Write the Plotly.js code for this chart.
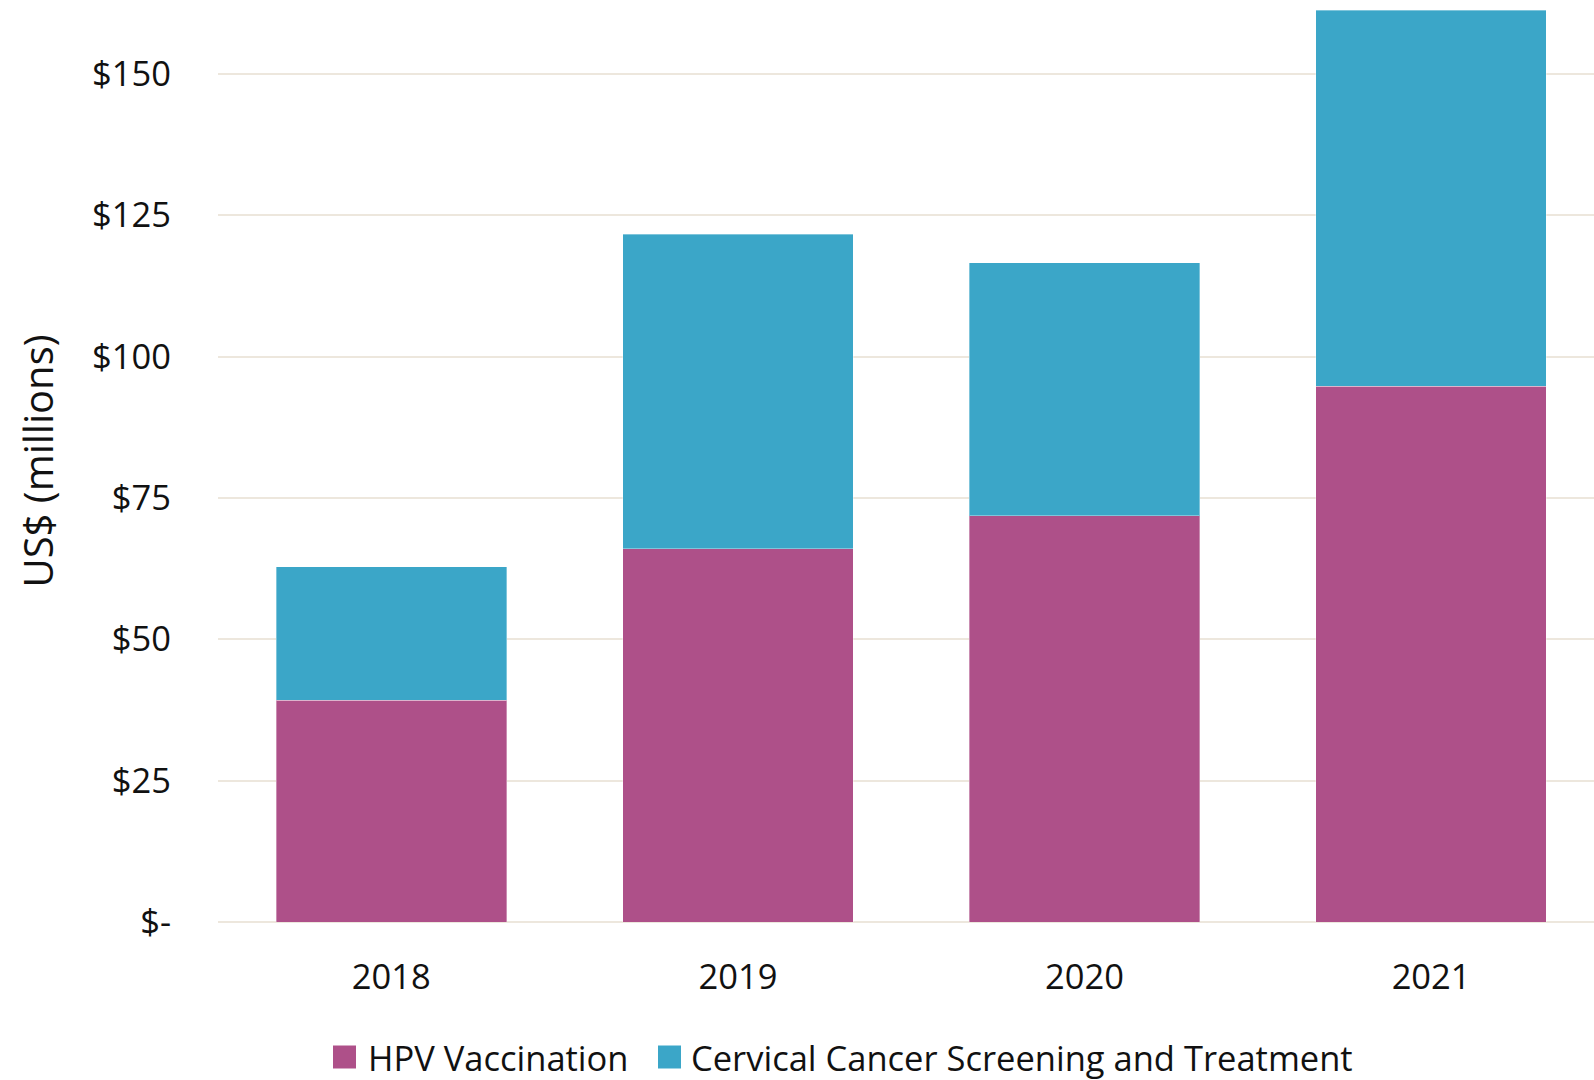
<!DOCTYPE html>
<html>
<head>
<meta charset="utf-8">
<script src="https://cdn.plot.ly/plotly-3.0.1.min.js"></script>
<style>
  html, body { margin: 0; padding: 0; background: #ffffff; }
  #chart { width: 1594px; height: 1080px; }
</style>
</head>
<body>
<div id="chart"></div>
<script>
const years = ['2018', '2019', '2020', '2021'];
const hpvVaccination = [39.2, 66.0, 71.9, 94.8];
const screeningTreatment = [23.6, 55.7, 44.7, 66.5];
const tickValues = [0, 25, 50, 75, 100, 125, 150];
const tickLabels = ['$-', '$25', '$50', '$75', '$100', '$125', '$150'];
const seriesNames = ['HPV Vaccination', 'Cervical Cancer Screening and Treatment'];
const seriesColors = ['#AE5089', '#3BA6C8'];

const fontFamily = '"Open Sans", "Noto Sans", sans-serif';
const W = 1594, H = 1080;

const traces = [
  {
    type: 'bar', name: seriesNames[0], x: years, y: hpvVaccination,
    marker: { color: seriesColors[0], line: { color: 'rgba(255,255,255,0.35)', width: 1 } },
    width: 0.665, hoverinfo: 'skip'
  },
  {
    type: 'bar', name: seriesNames[1], x: years, y: screeningTreatment,
    marker: { color: seriesColors[1], line: { color: 'rgba(255,255,255,0.35)', width: 1 } },
    width: 0.665, hoverinfo: 'skip'
  }
];

// Custom legend (larger square keys, as in the reference), positioned in container pixels
const legendKeys = [
  { x0: 333, x1: 356, textX: 366 },
  { x0: 658, x1: 681, textX: 689 }
];
const legendCenterY = 1057;
const shapes = legendKeys.map((k, i) => ({
  type: 'rect', xref: 'paper', yref: 'paper', layer: 'above',
  x0: (k.x0 - 218) / (W - 218), x1: (k.x1 - 218) / (W - 218),
  y0: -(legendCenterY + 11.5 - 922) / 922, y1: -(legendCenterY - 11.5 - 922) / 922,
  fillcolor: seriesColors[i], line: { width: 0 }
}));
const annotations = legendKeys.map((k, i) => ({
  text: seriesNames[i], showarrow: false, xref: 'paper', yref: 'paper',
  x: (k.textX - 218) / (W - 218), xanchor: 'left',
  y: -(legendCenterY - 922) / 922, yanchor: 'middle',
  font: { family: fontFamily, size: 34.5, color: '#111111' }
}));

const layout = {
  width: W, height: H,
  margin: { l: 218, r: 0, t: 0, b: 158 },
  barmode: 'stack',
  paper_bgcolor: '#ffffff', plot_bgcolor: '#ffffff',
  font: { family: fontFamily, color: '#111111', size: 34.5 },
  xaxis: {
    type: 'category', range: [-0.5, 3.47],
    showgrid: false, zeroline: false, showline: false,
    ticks: '', ticklabelstandoff: 31,
    tickfont: { family: fontFamily, size: 34.5, color: '#111111' },
    automargin: false
  },
  yaxis: {
    range: [0, 163.1],
    tickvals: tickValues, ticktext: tickLabels,
    showgrid: true, gridcolor: '#EDE7DD', gridwidth: 2,
    zeroline: true, zerolinecolor: '#EDE7DD', zerolinewidth: 2,
    showline: false, ticks: '', ticklabelstandoff: 46,
    tickfont: { family: fontFamily, size: 34.5, color: '#111111' },
    title: { text: 'US$ (millions)', font: { family: fontFamily, size: 40, color: '#111111' }, standoff: 26 },
    automargin: false
  },
  showlegend: false,
  shapes: shapes,
  annotations: annotations
};

Plotly.newPlot('chart', traces, layout, { displayModeBar: false, staticPlot: true });
</script>
</body>
</html>
